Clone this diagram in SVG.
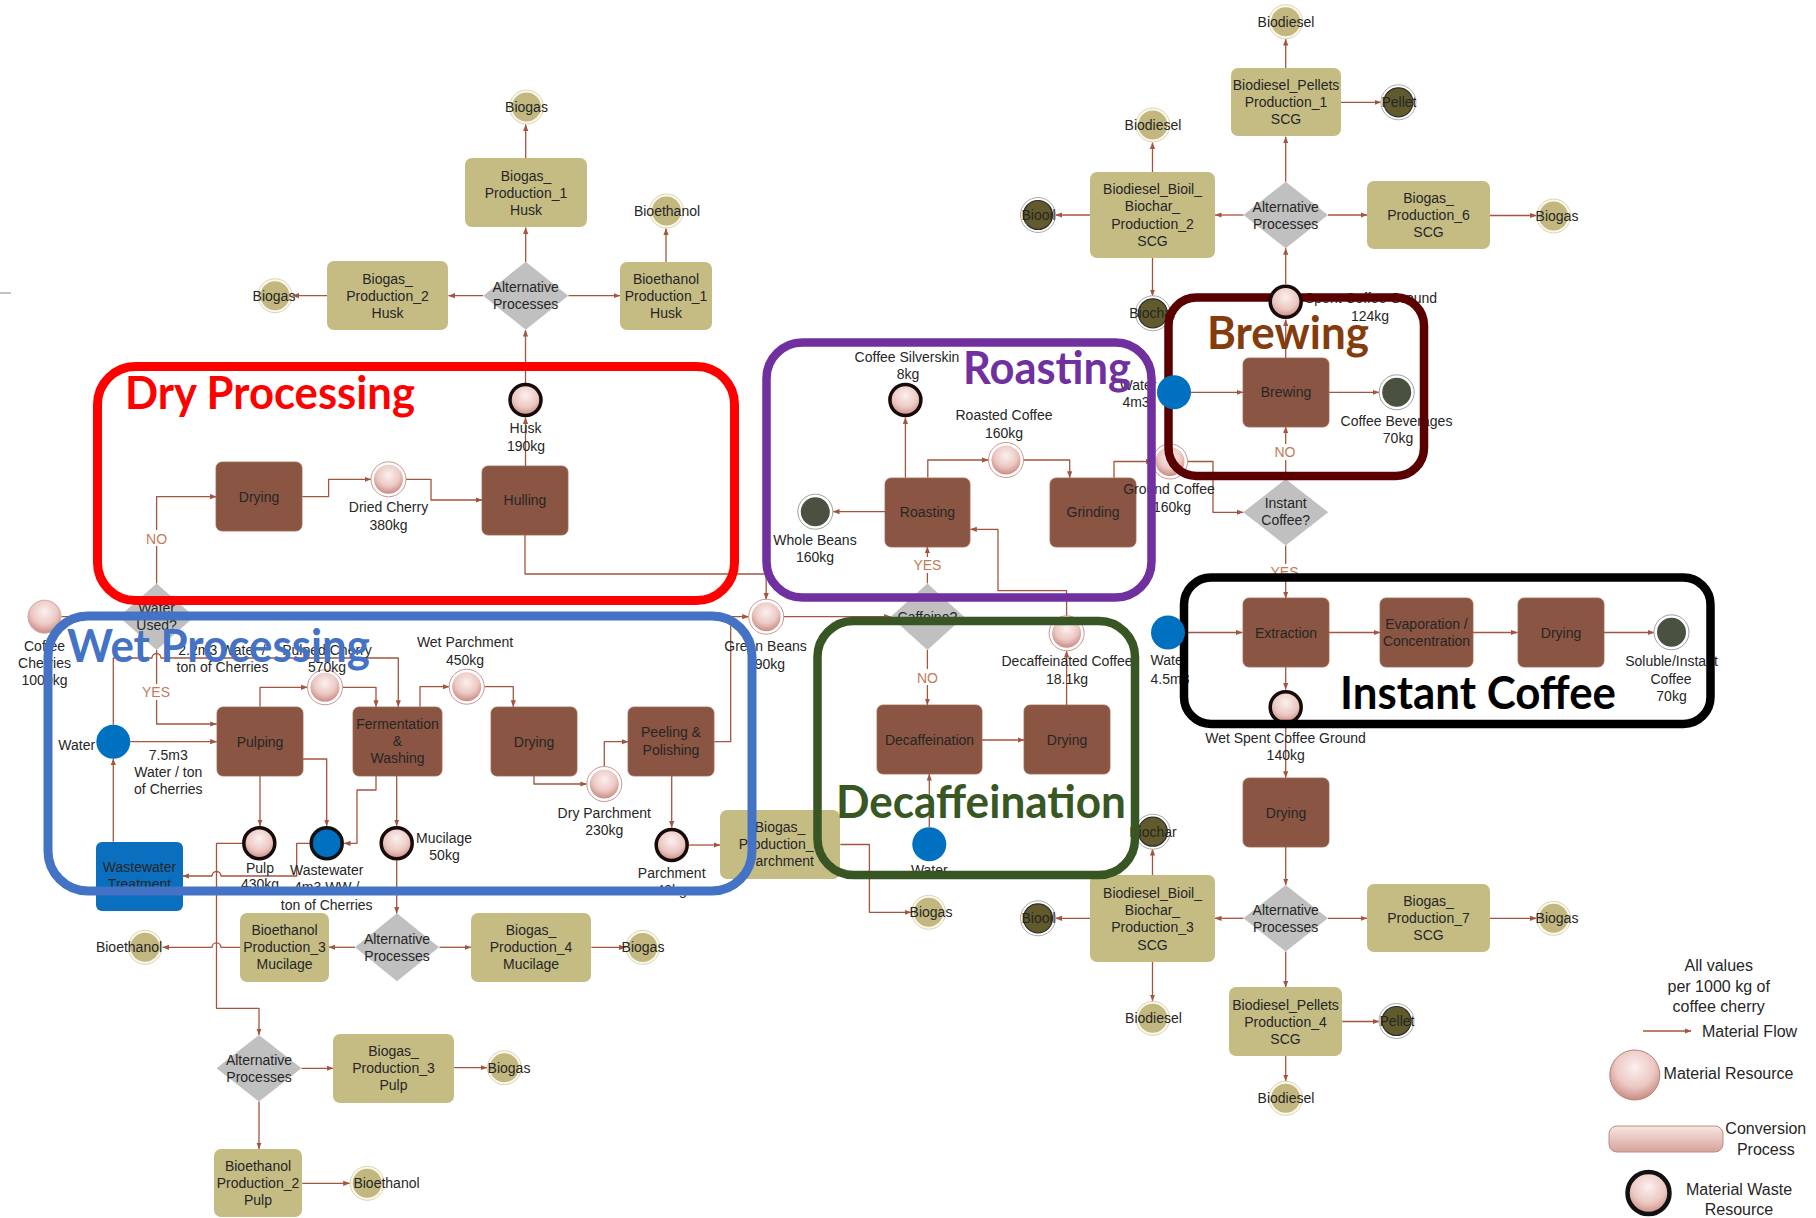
<svg xmlns="http://www.w3.org/2000/svg" width="1816" height="1218" viewBox="0 0 1816 1218">
<defs>
  <radialGradient id="pk" cx="50%" cy="35%" r="65%">
    <stop offset="0" stop-color="#fbf0ee"/>
    <stop offset="0.6" stop-color="#ecc8c3"/>
    <stop offset="1" stop-color="#c98b83"/>
  </radialGradient>
  <linearGradient id="pkbar" x1="0" y1="0" x2="0" y2="1">
    <stop offset="0" stop-color="#f7e6e3"/>
    <stop offset="1" stop-color="#d6a29b"/>
  </linearGradient>
  <marker id="ah" markerWidth="7" markerHeight="6" refX="6.5" refY="3" orient="auto" markerUnits="userSpaceOnUse">
    <path d="M0,0.4 L6.8,3 L0,5.6 z" fill="#a3553f"/>
  </marker>
  <!-- circle styles -->
  <g id="res"><circle r="17.5" fill="#fff" stroke="#c9968e" stroke-width="1"/><circle r="14.5" fill="url(#pk)"/></g>
  <g id="res0"><circle r="16.5" fill="url(#pk)" stroke="#d4a59e" stroke-width="1"/></g>
  <g id="waste"><circle r="15.5" fill="url(#pk)" stroke="#160b08" stroke-width="3.5"/></g>
  <g id="ww"><circle r="15.5" fill="#0070c0" stroke="#111" stroke-width="3.5"/></g>
  <g id="water"><circle r="17" fill="#0070c0"/></g>
  <g id="prod"><circle r="17" fill="#faf8ee" stroke="#ddd5b0" stroke-width="1"/><circle r="14.5" fill="#c2b87f"/></g>
  <g id="dark"><circle r="17.5" fill="#fff" stroke="#aaa" stroke-width="1"/><circle r="14.5" fill="#615a2d" stroke="#2e2e2e" stroke-width="1.2"/></g>
  <g id="final"><circle r="17.5" fill="#fff" stroke="#a0a0a0" stroke-width="1"/><circle r="14.5" fill="#4a5141"/></g>
</defs>
<style>
  text { font-family: "Liberation Sans", Arial, sans-serif; font-size: 14px; fill: #262626; text-anchor: middle; }
  .c { fill: none; stroke: #a3553f; stroke-width: 1.3; stroke-linejoin: round; marker-end: url(#ah); }
  .proc { fill: #8a5542; stroke: #9d6753; stroke-width: 0.8; }
  .bio { fill: #c5bc84; }
  .dia { fill: #c0c0c0; }
  .yn { fill: #c47a58; }
  .ynbg { fill: #fff; }
  .frame { fill: none; }
  .title { font-family: Lato, "Liberation Sans", sans-serif; font-weight: bold; font-size: 46px; text-anchor: start; }
  .lg { font-size: 16px; }
</style>
<rect width="1816" height="1218" fill="#fff"/>
<line x1="0" y1="293" x2="11" y2="293" stroke="#999" stroke-width="1.2"/>

<!-- flows -->
<g id="connectors">
  <path class="c" d="M525.5,383 V330"/>
  <path class="c" d="M525.7,262 V227.5"/>
  <path class="c" d="M525.7,158 V124.5"/>
  <path class="c" d="M483,295.7 H448.5"/>
  <path class="c" d="M327,295.7 H292.5"/>
  <path class="c" d="M568.5,295.7 H620"/>
  <path class="c" d="M666,262 V228.5"/>
  <path class="c" d="M525.5,466 V417.5"/>
  <path class="c" d="M156.6,583.4 V496.7 H216.5"/>
  <path class="c" d="M302.3,496.7 H328.6 V479.3 H371"/>
  <path class="c" d="M406,479.3 H431 V500 H482.4"/>
  <path class="c" d="M525,534.5 V574 H766.2 V599.5"/>
  <path class="c" d="M61.5,616.7 H119"/>
  <path class="c" d="M156.6,650 V724 H216.7"/>
  <path class="c" d="M130.3,741.7 H216.7"/>
  <path class="c" d="M113.3,724.7 V658 H152 A4.5,4.5 0 0 1 161,658 H398.3 V706.7"/>
  <path class="c" d="M260,706.7 V687.3 H307.5"/>
  <path class="c" d="M342.5,687.3 H376 V706.7"/>
  <path class="c" d="M420,706.7 V686.7 H449.2"/>
  <path class="c" d="M484.2,686.7 H513.3 V706.7"/>
  <path class="c" d="M534,775.7 V784 H586.8"/>
  <path class="c" d="M604.3,766.5 V741.7 H628.3"/>
  <path class="c" d="M671.7,775.7 V827.5"/>
  <path class="c" d="M714.3,741.7 H730.7 V616.7 H748.7"/>
  <path class="c" d="M689.2,845 H720"/>
  <path class="c" d="M840.4,844.5 H869.4 V912.3 H911"/>
  <path class="c" d="M260,775.7 V826"/>
  <path class="c" d="M302.3,759 H326.7 V826"/>
  <path class="c" d="M376,775.7 V790 H357 V843.3 H344"/>
  <path class="c" d="M396.7,775.7 V826"/>
  <path class="c" d="M309.5,843.3 H296.7 V876 H221 A4.5,4.5 0 0 0 212,876 H182.5"/>
  <path class="c" d="M113.3,841.7 V758.7"/>
  <path class="c" d="M242,843.3 H216.5 V1008.3 H259 V1035"/>
  <path class="c" d="M396.7,860.5 V913.5"/>
  <path class="c" d="M355,947.3 H328.8"/>
  <path class="c" d="M240,947.3 H221 A4.5,4.5 0 0 0 212,947.3 H162.5"/>
  <path class="c" d="M439.5,947.3 H471"/>
  <path class="c" d="M591.4,947.4 H625.5"/>
  <path class="c" d="M301.5,1068.3 H333.2"/>
  <path class="c" d="M454.2,1067.7 H487"/>
  <path class="c" d="M259,1101.6 V1149"/>
  <path class="c" d="M302.3,1183.3 H349.7"/>
  <path class="c" d="M783.5,616.7 H890.7"/>
  <path class="c" d="M927.4,583.4 V546.7"/>
  <path class="c" d="M927.4,650 V705"/>
  <path class="c" d="M905.4,477.7 V417.5"/>
  <path class="c" d="M927.8,477.7 V460 H988.5"/>
  <path class="c" d="M1023.5,460 H1069.7 V477.7"/>
  <path class="c" d="M885,511.7 H833"/>
  <path class="c" d="M982,740 H1024"/>
  <path class="c" d="M1066.6,705 V651"/>
  <path class="c" d="M1066.6,616 V590.7 H998 V529.3 H970.3"/>
  <path class="c" d="M929.3,827 V774"/>
  <path class="c" d="M1114,477.7 V461.5 H1152.5"/>
  <path class="c" d="M1187.5,461.5 H1213 V512.3 H1243.2"/>
  <path class="c" d="M1285.7,479 V426.7"/>
  <path class="c" d="M1191,392.3 H1243"/>
  <path class="c" d="M1329,392.3 H1379"/>
  <path class="c" d="M1285.7,358.3 V319.5"/>
  <path class="c" d="M1285.7,284 V248.3"/>
  <path class="c" d="M1285.7,181.7 V136.7"/>
  <path class="c" d="M1285.7,68.3 V39"/>
  <path class="c" d="M1340.7,102.3 H1381"/>
  <path class="c" d="M1328,215 H1367"/>
  <path class="c" d="M1490,215.5 H1536.5"/>
  <path class="c" d="M1243.5,215 H1215"/>
  <path class="c" d="M1152.5,172 V142.5"/>
  <path class="c" d="M1090,215 H1055.5"/>
  <path class="c" d="M1152.5,258 V296"/>
  <path class="c" d="M1285.7,545.6 V598.3"/>
  <path class="c" d="M1185,632.5 H1242.4"/>
  <path class="c" d="M1329,632.5 H1380"/>
  <path class="c" d="M1473,632.5 H1517.5"/>
  <path class="c" d="M1603.5,632.5 H1654"/>
  <path class="c" d="M1285.7,666.7 V689.5"/>
  <path class="c" d="M1285.7,725 V777.7"/>
  <path class="c" d="M1285.7,846.7 V885"/>
  <path class="c" d="M1243.5,918.3 H1215"/>
  <path class="c" d="M1152.5,875 V849"/>
  <path class="c" d="M1090,918.3 H1055.5"/>
  <path class="c" d="M1152.5,962 V1001"/>
  <path class="c" d="M1328,918.3 H1367"/>
  <path class="c" d="M1490,918.3 H1536.5"/>
  <path class="c" d="M1285.7,951.6 V987.3"/>
  <path class="c" d="M1342.2,1021.5 H1379"/>
  <path class="c" d="M1285.7,1056 V1081"/>
</g>

<!-- husk by-products -->
<g id="n-biogas-h1"><use href="#prod" x="526.5" y="107"/><text x="526.5" y="112">Biogas</text></g>
<g id="n-bgp1-husk"><rect class="bio" x="465" y="158" width="122" height="69" rx="7"/><text x="526" y="180.5">Biogas_</text><text x="526" y="197.5">Production_1</text><text x="526" y="214.5">Husk</text></g>
<g id="n-alt-husk"><path class="dia" d="M525.7,261.7 L568.2,295.7 L525.7,329.7 L483.2,295.7 z"/><text x="525.7" y="292">Alternative</text><text x="525.7" y="309">Processes</text></g>
<g id="n-bgp2-husk"><rect class="bio" x="327" y="261" width="121" height="69" rx="7"/><text x="387.5" y="283.5">Biogas_</text><text x="387.5" y="300.5">Production_2</text><text x="387.5" y="317.5">Husk</text></g>
<g id="n-biogas-h2"><use href="#prod" x="275" y="295.7"/><text x="274" y="300.7">Biogas</text></g>
<g id="n-bep1-husk"><rect class="bio" x="620" y="262" width="92" height="68" rx="7"/><text x="666" y="284">Bioethanol</text><text x="666" y="301">Production_1</text><text x="666" y="318">Husk</text></g>
<g id="n-bioethanol-h"><use href="#prod" x="666.5" y="211"/><text x="667" y="216">Bioethanol</text></g>

<!-- dry processing -->
<g id="n-husk"><use href="#waste" x="525.5" y="400"/><text x="525.5" y="433">Husk</text><text x="526" y="451">190kg</text></g>
<g id="n-drying-dry"><rect class="proc" x="216" y="462" width="86" height="69" rx="6"/><text x="259" y="501.5">Drying</text></g>
<g id="n-dried-cherry"><use href="#res" x="388.5" y="479.3"/><text x="388.5" y="512">Dried Cherry</text><text x="388.5" y="529.5">380kg</text></g>
<g id="n-hulling"><rect class="proc" x="482" y="466" width="86" height="69" rx="6"/><text x="525" y="505">Hulling</text></g>
<g id="n-water-used"><path class="dia" d="M156.6,583.4 L194.3,616.7 L156.6,650 L118.9,616.7 z"/><text x="156.6" y="613">Water</text><text x="156.6" y="630">Used?</text></g>
<g id="n-cherries"><use href="#res0" x="44.5" y="616.7"/><text x="44.5" y="651">Coffee</text><text x="44.5" y="668">Cherries</text><text x="44.5" y="685">1000kg</text></g>
<g id="lbl-dry"><rect class="ynbg" x="144" y="530" width="25" height="16"/><text class="yn" x="156.6" y="543.5">NO</text><rect class="ynbg" x="142" y="684" width="28" height="16"/><text class="yn" x="156" y="697">YES</text></g>

<!-- wet processing -->
<g id="n-water-wet"><use href="#water" x="113.3" y="741.7"/><text x="76.7" y="750">Water</text><text x="168.3" y="760">7.5m3</text><text x="168.3" y="777">Water / ton</text><text x="168.3" y="793.5">of Cherries</text><text x="222" y="655">2.2m3 Water /</text><text x="222.5" y="672">ton of Cherries</text></g>
<g id="n-pulping"><rect class="proc" x="217" y="707" width="86" height="69" rx="6"/><text x="260" y="746.5">Pulping</text></g>
<g id="n-pulped-cherry"><use href="#res" x="325" y="687.3"/><text x="327" y="655">Pulped Cherry</text><text x="327" y="671.5">570kg</text></g>
<g id="n-fermentation"><rect class="proc" x="353" y="707" width="89" height="69" rx="6"/><text x="397.5" y="728.5">Fermentation</text><text x="397.5" y="746">&amp;</text><text x="397.5" y="763">Washing</text></g>
<g id="n-wet-parchment"><use href="#res" x="466.7" y="686.7"/><text x="465" y="647">Wet Parchment</text><text x="465" y="664.5">450kg</text></g>
<g id="n-drying-wet"><rect class="proc" x="491" y="707" width="86" height="69" rx="6"/><text x="534" y="746.5">Drying</text></g>
<g id="n-dry-parchment"><use href="#res" x="604.3" y="784"/><text x="604.3" y="817.5">Dry Parchment</text><text x="604.3" y="834.5">230kg</text></g>
<g id="n-peeling"><rect class="proc" x="628" y="707" width="86" height="69" rx="6"/><text x="671" y="737">Peeling &amp;</text><text x="671" y="755">Polishing</text></g>
<g id="n-parchment"><use href="#waste" x="671.7" y="845"/><text x="671.7" y="877.5">Parchment</text><text x="671.7" y="894.5">40kg</text></g>
<g id="n-pulp"><use href="#waste" x="259.3" y="843.3"/><text x="260" y="872.5">Pulp</text><text x="260" y="889">430kg</text></g>
<g id="n-wastewater"><use href="#ww" x="326.7" y="843.3"/><text x="326.7" y="875">Wastewater</text><text x="326.7" y="892">4m3 WW /</text><text x="326.7" y="909.5">ton of Cherries</text></g>
<g id="n-mucilage"><use href="#waste" x="396.7" y="843.3"/><text x="444" y="843">Mucilage</text><text x="444.5" y="859.5">50kg</text></g>
<g id="n-wwt"><rect x="96" y="842" width="87" height="69" rx="6" fill="#0a6fbf"/><text x="139.5" y="872">Wastewater</text><text x="139.5" y="889">Treatment</text></g>
<g id="n-bgp5-parchment"><rect class="bio" x="720" y="810" width="120" height="69" rx="7"/><text x="780" y="832">Biogas_</text><text x="780" y="849">Production_5</text><text x="780" y="866">Parchment</text></g>
<g id="n-biogas-p"><use href="#prod" x="928.6" y="912.3"/><text x="931" y="917.3">Biogas</text></g>

<!-- mucilage and pulp by-products -->
<g id="n-alt-muc"><path class="dia" d="M397,913.3 L439,947.3 L397,981.3 L355,947.3 z"/><text x="397" y="944">Alternative</text><text x="397" y="961">Processes</text></g>
<g id="n-bep3-muc"><rect class="bio" x="240" y="913" width="89" height="69" rx="7"/><text x="284.5" y="935">Bioethanol</text><text x="284.5" y="952">Production_3</text><text x="284.5" y="969">Mucilage</text></g>
<g id="n-bioethanol-m"><use href="#prod" x="145" y="947.3"/><text x="129" y="952.3">Bioethanol</text></g>
<g id="n-bgp4-muc"><rect class="bio" x="471" y="913" width="120" height="69" rx="7"/><text x="531" y="935">Biogas_</text><text x="531" y="952">Production_4</text><text x="531" y="969">Mucilage</text></g>
<g id="n-biogas-m"><use href="#prod" x="642.8" y="947.4"/><text x="643" y="952.4">Biogas</text></g>
<g id="n-alt-pulp"><path class="dia" d="M259,1035 L301.5,1068.3 L259,1101.6 L216.5,1068.3 z"/><text x="259" y="1065">Alternative</text><text x="259" y="1082">Processes</text></g>
<g id="n-bgp3-pulp"><rect class="bio" x="333" y="1034" width="121" height="69" rx="7"/><text x="393.5" y="1056">Biogas_</text><text x="393.5" y="1073">Production_3</text><text x="393.5" y="1090">Pulp</text></g>
<g id="n-biogas-pu"><use href="#prod" x="504.4" y="1067.7"/><text x="509" y="1072.7">Biogas</text></g>
<g id="n-bep2-pulp"><rect class="bio" x="214" y="1149" width="88" height="68" rx="7"/><text x="258" y="1171">Bioethanol</text><text x="258" y="1188">Production_2</text><text x="258" y="1205">Pulp</text></g>
<g id="n-bioethanol-pu"><use href="#prod" x="367.2" y="1183.3"/><text x="386.5" y="1188.3">Bioethanol</text></g>

<!-- roasting and decaffeination -->
<g id="n-green-beans"><use href="#res" x="766.2" y="616.7"/><text x="765.5" y="651">Green Beans</text><text x="766" y="668.5">190kg</text></g>
<g id="n-caffeine"><path class="dia" d="M927.4,583.4 L964.1,616.7 L927.4,650 L890.7,616.7 z"/><text x="927.4" y="622">Caffeine?</text></g>
<g id="n-roasting"><rect class="proc" x="885" y="478" width="85" height="69" rx="6"/><text x="927.5" y="517">Roasting</text></g>
<g id="n-silverskin"><use href="#waste" x="905.4" y="400"/><text x="907" y="362">Coffee Silverskin</text><text x="908" y="379">8kg</text></g>
<g id="n-roasted"><use href="#res" x="1006" y="460"/><text x="1004" y="420">Roasted Coffee</text><text x="1004" y="437.5">160kg</text></g>
<g id="n-grinding"><rect class="proc" x="1050" y="478" width="86" height="69" rx="6"/><text x="1093" y="517">Grinding</text></g>
<g id="n-whole-beans"><use href="#final" x="815.3" y="511.7"/><text x="815" y="545">Whole Beans</text><text x="815" y="562">160kg</text></g>
<g id="lbl-caffeine"><rect class="ynbg" x="913" y="557" width="29" height="16"/><text class="yn" x="927.4" y="569.5">YES</text><rect class="ynbg" x="915" y="669" width="25" height="16"/><text class="yn" x="927.4" y="682.5">NO</text></g>
<g id="n-decaf"><rect class="proc" x="877" y="705" width="105" height="69" rx="6"/><text x="929.5" y="744.5">Decaffeination</text></g>
<g id="n-drying-decaf"><rect class="proc" x="1024" y="705" width="86" height="69" rx="6"/><text x="1067" y="744.5">Drying</text></g>
<g id="n-decaf-coffee"><use href="#res" x="1066.6" y="633.3"/><text x="1067" y="666">Decaffeinated Coffee</text><text x="1067" y="683.5">18.1kg</text></g>
<g id="n-water-decaf"><use href="#water" x="929.3" y="844.3"/><text x="929.3" y="875">Water</text></g>
<g id="n-ground-coffee"><use href="#res" x="1170" y="461.5"/><text x="1169" y="494">Ground Coffee</text><text x="1172" y="511.5">160kg</text></g>

<!-- brewing and instant coffee -->
<g id="n-brewing"><rect class="proc" x="1243" y="358" width="86" height="69" rx="6"/><text x="1286" y="397">Brewing</text></g>
<g id="n-beverages"><use href="#final" x="1396.7" y="392.3"/><text x="1396.5" y="426">Coffee Beverages</text><text x="1398" y="443">70kg</text></g>
<g id="n-instant-q"><path class="dia" d="M1285.7,479 L1328.2,512.3 L1285.7,545.6 L1243.2,512.3 z"/><text x="1285.7" y="508">Instant</text><text x="1285.7" y="525">Coffee?</text></g>
<g id="lbl-instant"><rect class="ynbg" x="1273" y="444" width="25" height="16"/><text class="yn" x="1285" y="457">NO</text><rect class="ynbg" x="1270" y="564" width="29" height="16"/><text class="yn" x="1284.5" y="577">YES</text></g>
<g id="n-extraction"><rect class="proc" x="1243" y="598" width="86" height="69" rx="6"/><text x="1286" y="637.5">Extraction</text></g>
<g id="n-evaporation"><rect class="proc" x="1380" y="598" width="93" height="69" rx="6"/><text x="1426.5" y="628.5">Evaporation /</text><text x="1426.5" y="646">Concentration</text></g>
<g id="n-drying-instant"><rect class="proc" x="1518" y="598" width="86" height="69" rx="6"/><text x="1561" y="637.5">Drying</text></g>
<g id="n-soluble"><use href="#final" x="1671.5" y="632.3"/><text x="1671.5" y="666">Soluble/Instant</text><text x="1671" y="683.5">Coffee</text><text x="1671.5" y="701">70kg</text></g>
<g id="n-wet-scg"><use href="#waste" x="1285.7" y="707.3"/><text x="1285.5" y="742.5">Wet Spent Coffee Ground</text><text x="1285.7" y="760">140kg</text></g>
<g id="n-drying-scg"><rect class="proc" x="1243" y="778" width="86" height="69" rx="6"/><text x="1286" y="817.5">Drying</text></g>

<!-- spent coffee ground by-products, upper -->
<g id="n-alt-scg1"><path class="dia" d="M1285.7,181.7 L1327.9,215 L1285.7,248.3 L1243.5,215 z"/><text x="1285.7" y="211.5">Alternative</text><text x="1285.7" y="228.5">Processes</text></g>
<g id="n-bdp1"><rect class="bio" x="1231" y="68" width="110" height="68" rx="7"/><text x="1286" y="90">Biodiesel_Pellets</text><text x="1286" y="107">Production_1</text><text x="1286" y="124">SCG</text></g>
<g id="n-biodiesel-1"><use href="#prod" x="1285.7" y="21.7"/><text x="1286" y="26.7">Biodiesel</text></g>
<g id="n-pellet-1"><use href="#dark" x="1398.4" y="102.3"/><text x="1399" y="107.3">Pellet</text></g>
<g id="n-bgp6"><rect class="bio" x="1367" y="181" width="123" height="68" rx="7"/><text x="1428.5" y="203">Biogas_</text><text x="1428.5" y="220">Production_6</text><text x="1428.5" y="237">SCG</text></g>
<g id="n-biogas-6"><use href="#prod" x="1553.6" y="216"/><text x="1557" y="221">Biogas</text></g>
<g id="n-bbb2"><rect class="bio" x="1090" y="172" width="125" height="86" rx="7"/><text x="1152.5" y="194">Biodiesel_Bioil_</text><text x="1152.5" y="211.3">Biochar_</text><text x="1152.5" y="228.7">Production_2</text><text x="1152.5" y="246">SCG</text></g>
<g id="n-biodiesel-2"><use href="#prod" x="1152.8" y="125"/><text x="1153" y="130">Biodiesel</text></g>
<g id="n-biooil-2"><use href="#dark" x="1038" y="215"/><text x="1038.6" y="220">Biooil</text></g>
<g id="n-biochar-2"><use href="#dark" x="1152.8" y="313.3"/><text x="1153" y="318.3">Biochar</text></g>

<!-- spent coffee ground by-products, lower -->
<g id="n-alt-scg2"><path class="dia" d="M1285.7,885 L1327.9,918.3 L1285.7,951.6 L1243.5,918.3 z"/><text x="1285.7" y="914.8">Alternative</text><text x="1285.7" y="931.8">Processes</text></g>
<g id="n-bbb3"><rect class="bio" x="1090" y="875" width="125" height="87" rx="7"/><text x="1152.5" y="897.5">Biodiesel_Bioil_</text><text x="1152.5" y="914.8">Biochar_</text><text x="1152.5" y="932.2">Production_3</text><text x="1152.5" y="949.5">SCG</text></g>
<g id="n-biochar-3"><use href="#dark" x="1152.8" y="831.7"/><text x="1153" y="836.7">Biochar</text></g>
<g id="n-biooil-3"><use href="#dark" x="1038" y="918.3"/><text x="1038.6" y="923.3">Biooil</text></g>
<g id="n-biodiesel-3"><use href="#prod" x="1152.8" y="1018.3"/><text x="1153.5" y="1023.3">Biodiesel</text></g>
<g id="n-bgp7"><rect class="bio" x="1367" y="884" width="123" height="68" rx="7"/><text x="1428.5" y="906">Biogas_</text><text x="1428.5" y="923">Production_7</text><text x="1428.5" y="940">SCG</text></g>
<g id="n-biogas-7"><use href="#prod" x="1553.6" y="918.3"/><text x="1557" y="923.3">Biogas</text></g>
<g id="n-bdp4"><rect class="bio" x="1229" y="987" width="113" height="69" rx="7"/><text x="1285.5" y="1009.5">Biodiesel_Pellets</text><text x="1285.5" y="1026.5">Production_4</text><text x="1285.5" y="1043.5">SCG</text></g>
<g id="n-pellet-4"><use href="#dark" x="1396.5" y="1021"/><text x="1397" y="1026">Pellet</text></g>
<g id="n-biodiesel-4"><use href="#prod" x="1285.7" y="1098.3"/><text x="1286" y="1103.3">Biodiesel</text></g>

<!-- captions that sit under the stage frames -->
<g id="lbl-water-brew"><text x="1138" y="390">Water</text><text x="1136" y="407">4m3</text></g>
<g id="lbl-water-instant"><text x="1169" y="665">Water</text><text x="1170" y="683.5">4.5m3</text></g>
<g id="lbl-scg"><text x="1371" y="303">Spent Coffee Ground</text><text x="1370" y="321">124kg</text></g>

<!-- stage frames -->
<g id="frames">
  <rect class="frame" x="97.5" y="366.5" width="637" height="234" rx="38" stroke="#ff0000" stroke-width="9"/>
  <rect class="frame" x="48" y="616" width="704" height="275" rx="40" stroke="#4472c4" stroke-width="9"/>
  <rect class="frame" x="766.5" y="342.5" width="385" height="255" rx="36" stroke="#7030a0" stroke-width="8.5"/>
  <rect class="frame" x="817.5" y="621" width="317.5" height="254" rx="36" stroke="#375623" stroke-width="8.5"/>
  <rect class="frame" x="1168.5" y="297.5" width="255.5" height="178.5" rx="28" stroke="#5a0000" stroke-width="8.5"/>
  <rect class="frame" x="1184" y="577.5" width="526.5" height="146.5" rx="27" stroke="#000" stroke-width="8.5"/>
</g>
<g id="titles">
  <text class="title" x="125" y="409" textLength="290" lengthAdjust="spacingAndGlyphs" fill="#ff0000" style="fill:#ff0000">Dry Processing</text>
  <text class="title" x="67" y="662" textLength="303" lengthAdjust="spacingAndGlyphs" style="fill:#4472c4">Wet Processing</text>
  <text class="title" x="963" y="384" textLength="168" lengthAdjust="spacingAndGlyphs" style="fill:#7030a0">Roasting</text>
  <text class="title" x="836" y="818" textLength="290" lengthAdjust="spacingAndGlyphs" style="fill:#385723">Decaffeination</text>
  <text class="title" x="1207" y="349" textLength="162" lengthAdjust="spacingAndGlyphs" style="fill:#843c0c">Brewing</text>
  <text class="title" x="1340" y="709" textLength="276" lengthAdjust="spacingAndGlyphs" style="fill:#000">Instant Coffee</text>
</g>

<!-- resources drawn over the frames -->
<g id="n-water-brew"><use href="#water" x="1174" y="392.3"/></g>
<g id="n-water-instant"><use href="#water" x="1168" y="632.5"/></g>
<g id="n-scg"><use href="#waste" x="1285.7" y="301.7"/></g>

<!-- legend -->
<g id="legend">
  <text class="lg" x="1718.7" y="971">All values</text>
  <text class="lg" x="1718.7" y="991.5">per 1000 kg of</text>
  <text class="lg" x="1718.7" y="1012">coffee cherry</text>
  <path class="c" d="M1643,1031 H1691"/>
  <text class="lg" x="1702" y="1036.5" style="text-anchor:start">Material Flow</text>
  <circle cx="1634.8" cy="1075" r="25" fill="url(#pk)" stroke="#b88078" stroke-width="1"/>
  <text class="lg" x="1663.6" y="1079" style="text-anchor:start">Material Resource</text>
  <rect x="1609" y="1126" width="114" height="26" rx="8" fill="url(#pkbar)" stroke="#c08a80" stroke-width="1"/>
  <text class="lg" x="1765.8" y="1133.5">Conversion</text>
  <text class="lg" x="1765.8" y="1154.5">Process</text>
  <circle cx="1648.5" cy="1193" r="21" fill="url(#pk)" stroke="#111" stroke-width="4.5"/>
  <text class="lg" x="1739" y="1194.5">Material Waste</text>
  <text class="lg" x="1739" y="1215">Resource</text>
</g>
</svg>
